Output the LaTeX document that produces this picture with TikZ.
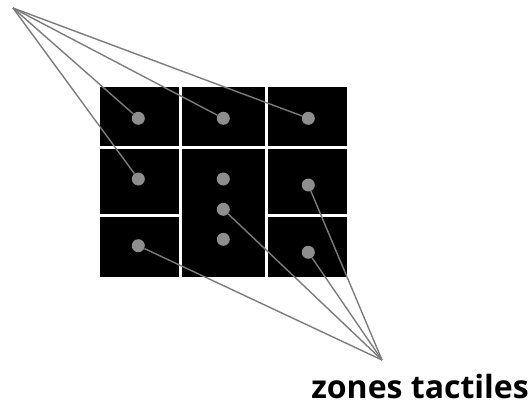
\documentclass[tikz,border=0pt]{standalone}
\usepackage{fontspec}
\usepackage{tikz}
\usetikzlibrary{positioning,calc}
\newfontfamily\labelfont{Open Sans}
\definecolor{dotGray}{HTML}{8E8E8E}
\definecolor{lineGray}{HTML}{7C7C7C}

\begin{document}
\begin{tikzpicture}[
        x=1pt, y=-1pt,
        touch/.style={
                circle,
                fill=dotGray,
                inner sep=0pt,
                minimum size=13pt
            },
        link/.style={draw=lineGray, line width=1.4pt},
        gap/.style={draw=white, line width=2.6pt}
    ]
    \useasboundingbox (0,0) rectangle (529,408);

    % ecran et separations
    \fill[black] (100,86.7) rectangle (346.7,276.7);
    \draw[gap] (180.6,86.7) -- (180.6,276.7);
    \draw[gap] (266.2,86.7) -- (266.2,276.7);
    \draw[gap] (100,147.7) -- (346.7,147.7);
    \draw[gap] (100,215.5) -- (180.6,215.5);
    \draw[gap] (266.2,215.5) -- (346.7,215.5);

    % zones tactiles
    \node[touch] (t11) at (138.3,118.3) {};
    \node[touch] (t12) at (223.3,118.3) {};
    \node[touch] (t13) at (308.3,118.3) {};
    \node[touch] (t21) at (138.3,179) {};
    \node[touch] (tm1) at (223.3,179) {};
    \node[touch] (tm2) at (223.3,209.3) {};
    \node[touch] (tm3) at (223.3,239.3) {};
    \node[touch] (t23) at (308.3,185) {};
    \node[touch] (t31) at (138.3,245.7) {};
    \node[touch] (t33) at (308.3,252.3) {};

    \coordinate (top) at (13,8);
    \coordinate (bot) at (382,360);
    \node[font=\labelfont\bfseries\fontsize{32}{32}\selectfont, inner sep=0pt, anchor=base east] (lbl) at (529,398) {zones tactiles};

    \foreach \t in {t11,t12,t13,t21}
        \draw[link] (top) -- (\t);
    \foreach \t in {t31,tm2,t23,t33}
        \draw[link] (bot) -- (\t);
\end{tikzpicture}
\end{document}
